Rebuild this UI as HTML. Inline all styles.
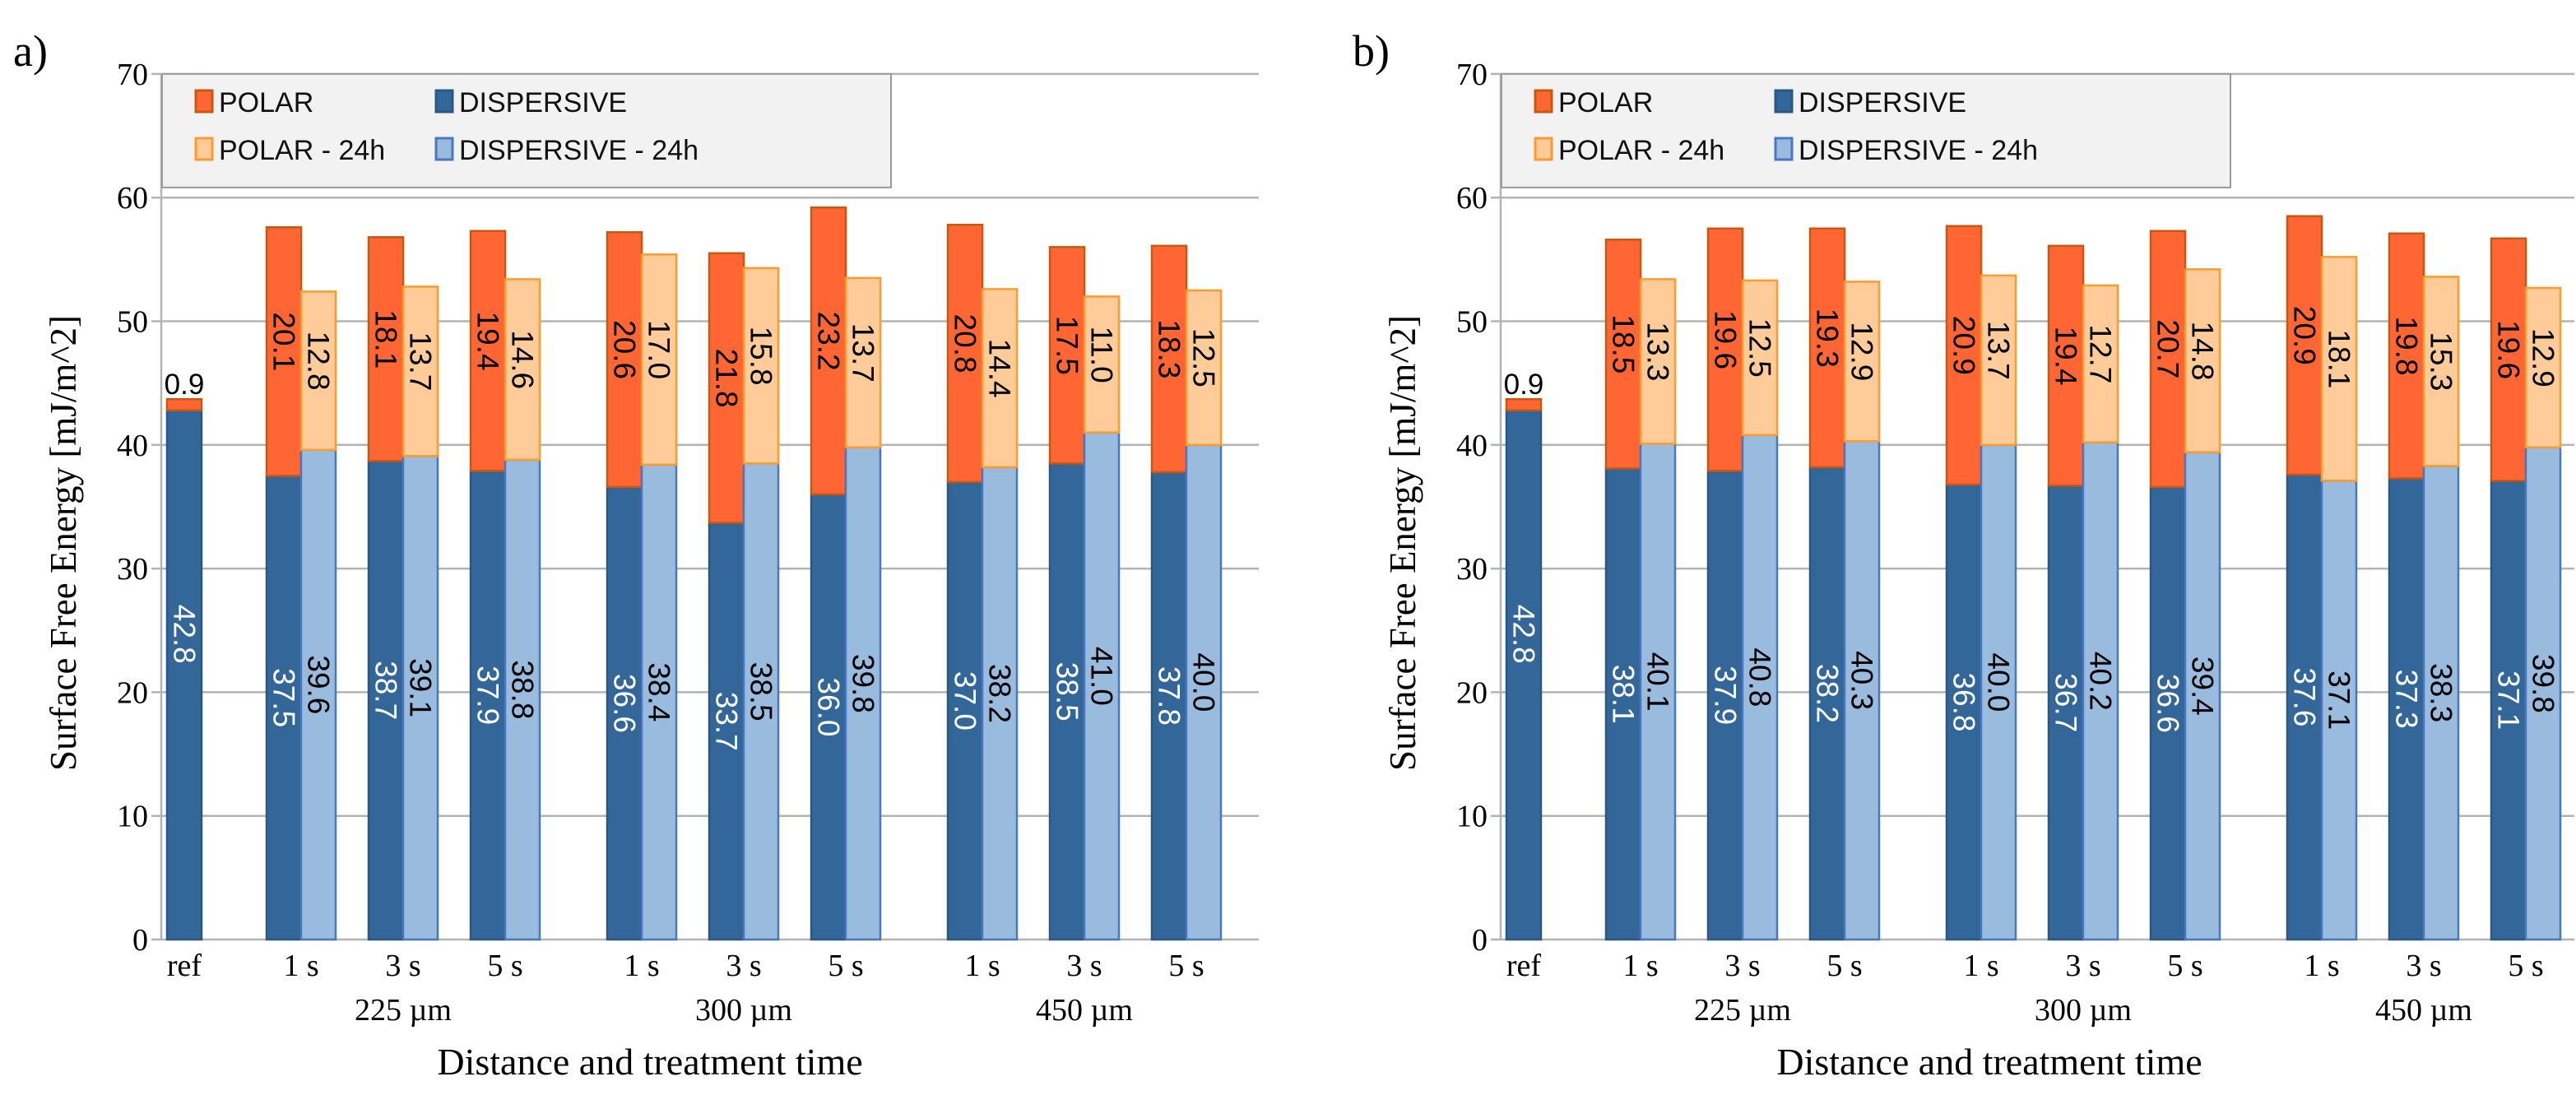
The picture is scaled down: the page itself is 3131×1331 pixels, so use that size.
<!DOCTYPE html>
<html><head><meta charset="utf-8"><style>
html,body{margin:0;padding:0;background:#fff;overflow:hidden;}
svg{display:block;}
</style></head><body>
<svg id="chart" width="3131" height="1331" viewBox="0 0 3131 1331" xmlns="http://www.w3.org/2000/svg"></svg>
<script>
const categories = ["ref","1 s","3 s","5 s","1 s","3 s","5 s","1 s","3 s","5 s"];
const groupLabels = ["225 µm","300 µm","450 µm"];
const yTicks = [0,10,20,30,40,50,60,70];
// Panel a
const aDisp = [42.8,37.5,38.7,37.9,36.6,33.7,36.0,37.0,38.5,37.8];
const aPolar = [0.9,20.1,18.1,19.4,20.6,21.8,23.2,20.8,17.5,18.3];
const aDisp24 = [null,39.6,39.1,38.8,38.4,38.5,39.8,38.2,41.0,40.0];
const aPolar24 = [null,12.8,13.7,14.6,17.0,15.8,13.7,14.4,11.0,12.5];
// Panel b
const bDisp = [42.8,38.1,37.9,38.2,36.8,36.7,36.6,37.6,37.3,37.1];
const bPolar = [0.9,18.5,19.6,19.3,20.9,19.4,20.7,20.9,19.8,19.6];
const bDisp24 = [null,40.1,40.8,40.3,40.0,40.2,39.4,37.1,38.3,39.8];
const bPolar24 = [null,13.3,12.5,12.9,13.7,12.7,14.8,18.1,15.3,12.9];

const svg = document.getElementById('chart');
const NS = 'http://www.w3.org/2000/svg';
function mk(tag, attrs, parent, text){
  const e = document.createElementNS(NS, tag);
  for (const k in attrs) e.setAttribute(k, attrs[k]);
  if (text !== undefined) e.textContent = text;
  (parent||svg).appendChild(e);
  return e;
}
const Y0 = 1142, PX = 15.03;
function yS(v){ return Y0 - v*PX; }
const catCenters = [224,366,490,614,780,904,1028,1194,1318,1442];
function xS(i, off){ return catCenters[i] + off; }
const BW = 42;
const COL = {
  polar:{fill:'#ff6633',stroke:'#c8580f'},
  polar24:{fill:'#ffcc99',stroke:'#ff9a2e'},
  disp:{fill:'#336699',stroke:'#2a5885'},
  disp24:{fill:'#99bbdd',stroke:'#4a78c0'}
};
function fmt(v){ return v.toFixed(1); }

function drawPanel(off, letter, D, P, D24, P24){
  const g = mk('g', {});
  
  
  const L = 196 + off, R = Math.min(1530 + off, 3129);
  const pl = mk('text', {x: 16+off, y: 80, 'font-family':'Liberation Serif, serif','font-size':54,fill:'#000'}, g, letter + ')');
  
  
  yTicks.forEach(t=>{
    const ln = mk('line',{x1:L-12,x2:R,y1:yS(t),y2:yS(t),stroke:'#b3b3b3','stroke-width':2.5}, g);
    
    
    const tl = mk('text',{x:L-16,y:yS(t)+13,'text-anchor':'end','font-family':'Liberation Serif, serif','font-size':38,fill:'#000'}, g, String(t));
    
    
  });
  mk('line',{x1:L,x2:L,y1:yS(70),y2:yS(0),stroke:'#b3b3b3','stroke-width':2.5}, g);
  const lg = mk('g',{}, g);
  
  
  mk('rect',{x:L+1,y:yS(70),width:886,height:138,fill:'#f2f2f2',stroke:'#9a9a9a','stroke-width':2}, lg);
  const items = [['POLAR',COL.polar,L+42,124],['DISPERSIVE',COL.disp,L+334,124],['POLAR - 24h',COL.polar24,L+42,182],['DISPERSIVE - 24h',COL.disp24,L+334,182]];
  items.forEach(it=>{
    const e = mk('g',{}, lg);
    
    
    mk('rect',{x:it[2],y:it[3]-14,width:20,height:26,fill:it[1].fill,stroke:it[1].stroke,'stroke-width':3}, e);
    mk('text',{x:it[2]+28,y:it[3]+12,'font-family':'Liberation Sans, sans-serif','font-size':34,fill:'#111'}, e, it[0]);
  });
  function bar(x, v0, v1, c, name){
    const r = mk('rect',{x:x,y:yS(v1),width:BW,height:yS(v0)-yS(v1),fill:c.fill,stroke:c.stroke,'stroke-width':2.5}, g);
    
    
  }
  function vlabel(x, v0, v1, txt, color){
    const cy = yS((v0+v1)/2 + 0.8);
    const t = mk('text',{x:x, y:cy, 'text-anchor':'middle','dominant-baseline':'central','font-family':'Liberation Sans, sans-serif','font-size':37,fill:color,transform:'rotate(90 '+x+' '+cy+')'}, g, txt);
    
    
  }
  for (let i=0;i<categories.length;i++){
    const c = xS(i, off);
    if (i===0){
      const x = c - BW/2;
      bar(x, 0, D[0], COL.disp, 'bar-ref-dispersive');
      bar(x, D[0], D[0]+P[0], COL.polar, 'bar-ref-polar');
      vlabel(c, 0, D[0]+5, fmt(D[0]), '#fff');
      const t = mk('text',{x:c,y:yS(D[0]+P[0])-6,'text-anchor':'middle','font-family':'Liberation Sans, sans-serif','font-size':35,fill:'#000'}, g, fmt(P[0]));
      
      
    } else {
      const x1 = c - BW, x2 = c;
      bar(x1, 0, D[i], COL.disp, 'bar-dispersive-'+i);
      bar(x1, D[i], D[i]+P[i], COL.polar, 'bar-polar-'+i);
      bar(x2, 0, D24[i], COL.disp24, 'bar-dispersive-24h-'+i);
      bar(x2, D24[i], D24[i]+P24[i], COL.polar24, 'bar-polar-24h-'+i);
      vlabel(x1+BW/2, 0, D[i], fmt(D[i]), '#fff');
      vlabel(x1+BW/2, D[i], D[i]+P[i], fmt(P[i]), '#000');
      vlabel(x2+BW/2, 0, D24[i], fmt(D24[i]), '#000');
      vlabel(x2+BW/2, D24[i], D24[i]+P24[i], fmt(P24[i]), '#000');
    }
    const cl = mk('text',{x:c,y:1186,'text-anchor':'middle','font-family':'Liberation Serif, serif','font-size':38,fill:'#000'}, g, categories[i]);
    
    
  }
  groupLabels.forEach((gl,k)=>{
    const t = mk('text',{x:xS(2+3*k,off),y:1240,'text-anchor':'middle','font-family':'Liberation Serif, serif','font-size':38,fill:'#000'}, g, gl);
    
    
  });
  const xt = mk('text',{x:790+off,y:1306,'text-anchor':'middle','font-family':'Liberation Serif, serif','font-size':46,fill:'#000'}, g, 'Distance and treatment time');
  
  
  const yt = mk('text',{x:92+off,y:660,'text-anchor':'middle','font-family':'Liberation Serif, serif','font-size':45,fill:'#000',transform:'rotate(-90 '+(92+off)+' 660)'}, g, 'Surface  Free Energy [mJ/m^2]');
  
  
}
drawPanel(0,'a',aDisp,aPolar,aDisp24,aPolar24);
drawPanel(1628,'b',bDisp,bPolar,bDisp24,bPolar24);
</script>
</body></html>
